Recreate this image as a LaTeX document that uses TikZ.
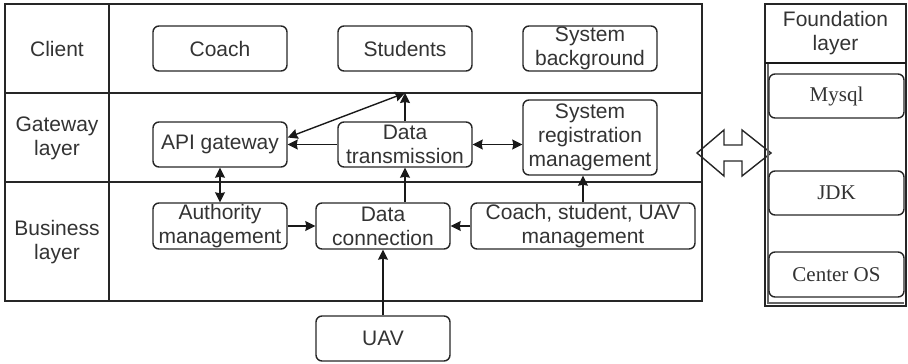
\documentclass[tikz,border=0pt]{standalone}
\usepackage{fontspec}
\setmainfont{Liberation Sans}
\newfontfamily\serifface{Liberation Serif}
\usetikzlibrary{arrows.meta,calc}
\begin{document}
\begin{tikzpicture}[x=1pt,y=-1pt,
  line width=1.4pt,
  txt/.style={font=\fontsize{21}{24}\selectfont, text=black!80, align=center, inner sep=0pt},
  box/.style={txt, draw=black!85, rounded corners=6pt, minimum width=134pt, minimum height=45pt},
  sbox/.style={box, font=\serifface\fontsize{21}{24}\selectfont, minimum width=135pt, minimum height=44pt},
  arr/.style={-{Stealth[length=10pt,width=10pt,inset=1pt]}, black!90},
  darr/.style={{Stealth[length=10pt,width=10pt,inset=1pt]}-{Stealth[length=10pt,width=10pt,inset=1pt]}, black!90}
]
\useasboundingbox (0,0) rectangle (908,364);
% main frame
\draw[black!85] (5,4) rectangle (702,301);
\draw[black!85] (109,4) -- (109,301);
\draw[black!85] (5,93) -- (702,93);
\draw[black!85] (5,182) -- (702,182);
% row labels
\node[txt] (lclient) at (57,48.5) {Client};
\node[txt] (lgate) at (57,138) {Gateway\\layer};
\node[txt] (lbus) at (57,242) {Business\\layer};
% client row
\node[box] (coach) at (220,48.5) {Coach};
\node[box] (stud) at (405,48.5) {Students};
\node[box] (sysbg) at (590,48.5) {System\\background};
% gateway row
\node[box] (api) at (220,144.5) {API gateway};
\node[box] (dt) at (405,144.5) {Data\\transmission};
\node[box, minimum height=75pt] (srm) at (590,137.5) {System\\registration\\management};
% business row
\node[box, minimum height=46pt] (auth) at (220,226) {Authority\\management};
\node[box, minimum height=46pt] (dc) at (383,226) {Data\\connection};
\node[box, minimum height=46pt, minimum width=224pt] (csu) at (583,226) {Coach, student, UAV\\management};
\node[box] (uav) at (383,338.5) {UAV};
% connectors
\coordinate (top) at (405,93);
\draw[darr] ([yshift=7pt]api.east) -- (top);
\draw[arr] (dt.north) -- (top);
\draw[arr] (dt.west) -- (api.east);
\draw[darr] (dt.east) -- (srm.west |- dt.east);
\draw[darr] (api.south) -- (auth.north);
\draw[arr] (dt.south |- dc.north) -- (dt.south);
\draw[arr] (auth.east) -- (dc.west);
\draw[arr] (csu.west) -- (dc.east);
\draw[arr] (csu.north) -- (csu.north |- srm.south);
\draw[arr] (uav.north) -- (dc.south);
% big double arrow
\draw[black!85] (697,153) -- (724,130) -- (724,145) -- (742,145) -- (742,130) -- (771,153)
  -- (742,176) -- (742,161) -- (724,161) -- (724,176) -- cycle;
% foundation column
\draw[black!85] (765,4) rectangle (906,306);
\draw[black!90, line width=2pt] (765,63) -- (906,63);
\draw[black!60] (768,64) -- (768,303) -- (904,303);
\node[txt] (lfound) at (835.5,33) {Foundation\\layer};
\node[sbox] (mysql) at (836.5,96) {Mysql};
\node[sbox] (jdk) at (836.5,193) {JDK};
\node[sbox, minimum height=45pt] (cos) at (836.5,274.5) {Center OS};
\end{tikzpicture}
\end{document}
